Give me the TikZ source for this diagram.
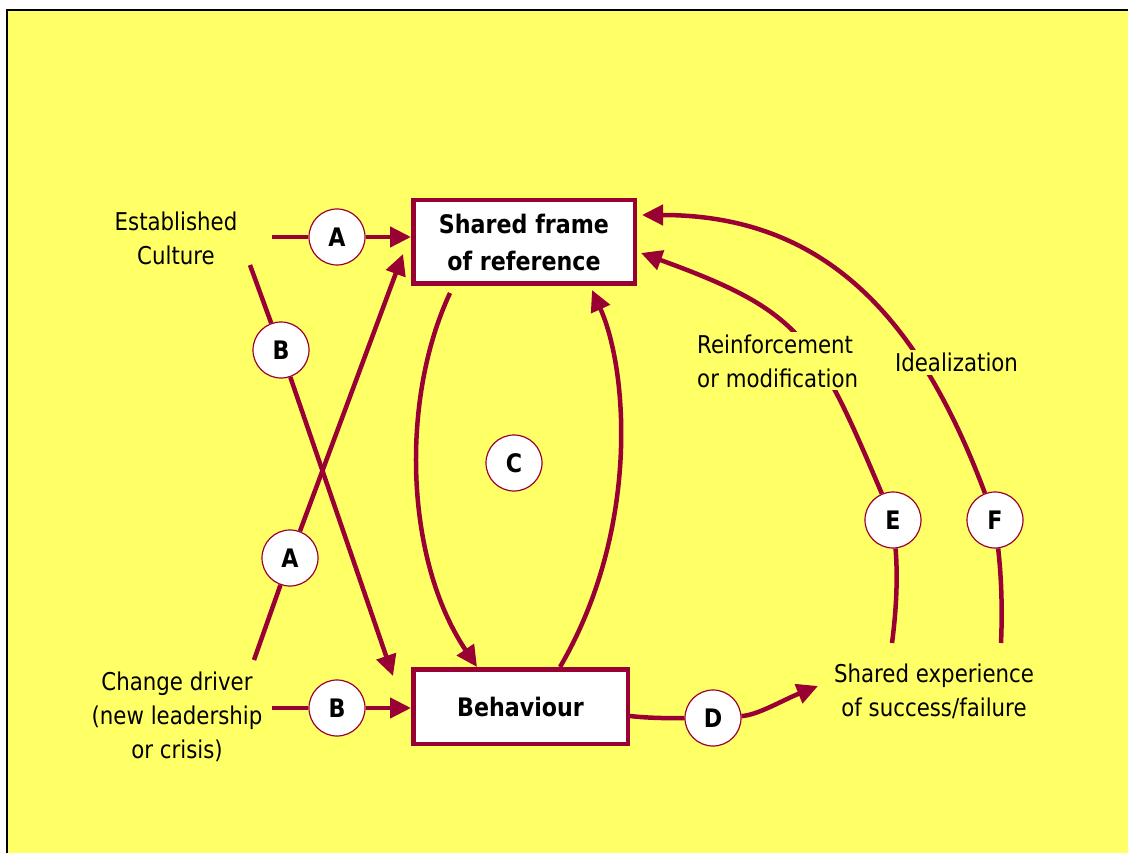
\documentclass[tikz,border=0pt]{standalone}
\usepackage{fontspec}
\setmainfont{DejaVu Sans}[FakeStretch=0.87]
\usetikzlibrary{arrows.meta}
\definecolor{wine}{HTML}{990033}
\definecolor{pad}{HTML}{FFFF66}

\begin{document}
\begin{tikzpicture}[x=1pt,y=-1pt,
  font=\fontsize{24.5}{34}\selectfont,
  line/.style={draw=wine,line width=4.5pt},
  flow/.style={line,-{Triangle[length=21pt,width=20pt]}},
  tag/.style={circle,draw=wine,line width=1.2pt,fill=white,minimum size=56pt,inner sep=0pt,font=\fontsize{25.5}{34}\selectfont\bfseries},
  box/.style={draw=wine,line width=4.5pt,fill=white,align=center,font=\fontsize{25.5}{37}\selectfont\bfseries},
  lbl/.style={inner sep=0pt,align=center}]
\useasboundingbox (0,0) rectangle (1128,853);
\fill[white] (0,0) rectangle (1128,853);
\begin{scope}
\clip (0,0) rectangle (1128,853);
\draw[fill=pad,line width=2.5pt] (7,10) rectangle (1150,880);
\end{scope}

% boxes and markers
\node[box,minimum width=221.5pt,minimum height=83.5pt] (frame) at (524,242) {Shared frame\\of reference};
\node[box,minimum width=214.5pt,minimum height=74.5pt] (behav) at (520.5,706.5) {Behaviour};
\node[tag] (A1) at (337,237) {A};
\node[tag] (B1) at (281,350) {B};
\node[tag] (A2) at (290,558) {A};
\node[tag] (B2) at (337,708) {B};
\node[tag] (C) at (514,463) {C};
\node[tag] (D) at (713,718) {D};
\node[tag] (E) at (893,520) {E};
\node[tag] (F) at (995,520) {F};

% loose ends
\coordinate (estA) at (272,237);
\coordinate (estB) at (250,265);
\coordinate (chgA) at (254,660);
\coordinate (chgB) at (272,708);
\coordinate (aTip) at (403,254);
\coordinate (bTip) at (393,676);
\coordinate (c1s) at (450,293);
\coordinate (c1e) at (477,667);
\coordinate (c2s) at (560,667);
\coordinate (c2e) at (592,290);
\coordinate (dS) at (630,716);
\coordinate (dTip) at (818,686);
\coordinate (eBot) at (892,643);
\coordinate (eTip) at (641,253);
\coordinate (fBot) at (1001,643);
\coordinate (fTip) at (642,215);

\draw[flow] (estA) -- (A1) -- (A1 -| frame.west);
\draw[flow] (estB) -- (B1) -- (bTip);
\draw[flow] (chgA) -- (A2) -- (aTip);
\draw[flow] (chgB) -- (B2) -- (B2 -| behav.west);
\draw[flow] (c1s) .. controls +(-50,107) and +(-72,-107) .. (c1e);
\draw[flow] (c2s) .. controls +(80,-137) and +(36,80) .. (c2e);
\draw[line] (dS) .. controls +(25,3) and +(-25,0) .. (D);
\draw[flow] (D) .. controls +(45,-3) and +(-35,14) .. (dTip);
\draw[line] (eBot) .. controls +(6,-45) and +(4,45) .. (E);
\draw[flow] (E) .. controls +(-78,-184) and +(160,58) .. (eTip);
\draw[line] (fBot) .. controls +(2,-45) and +(5,45) .. (F);
\draw[flow] (F) .. controls +(-75,-200) and +(185,0) .. (fTip);

% texts
\node[lbl] (est) at (176,238) {Established\\Culture};
\node[lbl] (chg) at (177,717) {Change driver\\(new leadership\\or crisis)};
\node[lbl,align=left,anchor=west,fill=pad,inner sep=3pt] (reinf) at (694,361) {Reinforcement\\or modification};
\node[lbl,fill=pad,inner sep=3pt] (ideal) at (956.5,362.5) {Idealization};
\node[lbl] (sexp) at (934,691) {Shared experience\\of success/failure};
\end{tikzpicture}
\end{document}
